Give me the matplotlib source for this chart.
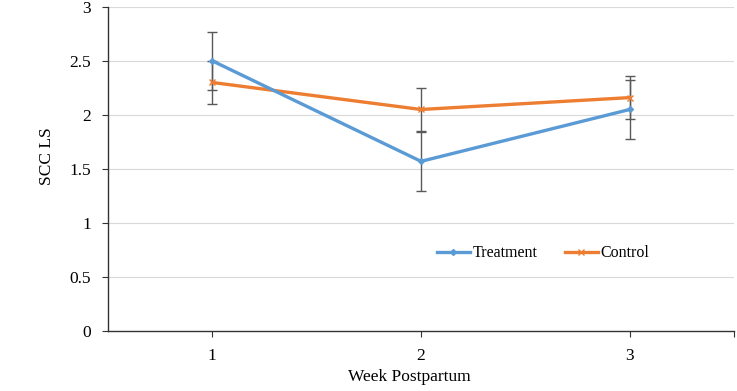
import matplotlib
matplotlib.use("Agg")
import matplotlib.pyplot as plt

weeks = [1, 2, 3]
treatment = [2.50, 1.57, 2.05]
treatment_err = [0.27, 0.27, 0.27]
control = [2.30, 2.05, 2.16]
control_err = [0.20, 0.20, 0.20]
yticks = [0, 0.5, 1, 1.5, 2, 2.5, 3]

plt.rcParams['font.family'] = ['Liberation Serif', 'DejaVu Serif']

fig = plt.figure(figsize=(7.37, 3.91), dpi=100)
ax = fig.add_axes([0.1465, 0.1535, 0.8495, 0.829])

for y in yticks[1:]:
    ax.axhline(y, color='#d9d9d9', lw=0.8, zorder=0)

ax.errorbar(weeks, treatment, yerr=treatment_err, fmt='none', ecolor='#595959',
            elinewidth=1, capsize=3.5, capthick=1, zorder=1)
ax.errorbar(weeks, control, yerr=control_err, fmt='none', ecolor='#595959',
            elinewidth=1, capsize=3.5, capthick=1, zorder=1)
ax.plot(weeks, treatment, color='#5b9bd5', lw=2.4, marker='D', ms=3, label='Treatment', zorder=3)
ax.plot(weeks, control, color='#ed7d31', lw=2.4, marker='x', ms=4, mew=1, label='Control', zorder=2)

ax.set_xlim(0.5, 3.5)
ax.set_ylim(0, 3)
ax.set_yticks(yticks)
ax.set_yticklabels(['0', '0.5', '1', '1.5', '2', '2.5', '3'])
ax.set_xticks([1, 2, 3, 3.5])
ax.set_xticklabels(['1', '2', '3', ''])
ax.tick_params(axis='both', labelsize=12.5, length=4, width=0.8, color='#333333')
ax.tick_params(axis='x', pad=8)
ax.tick_params(axis='y', pad=8)

for s in ['top', 'right']:
    ax.spines[s].set_visible(False)
for s in ['left', 'bottom']:
    ax.spines[s].set_color('#333333')
    ax.spines[s].set_linewidth(1)

ax.set_xlabel('Week Postpartum', fontsize=12.5)
ax.set_ylabel('SCC LS', fontsize=12.5)
ax.xaxis.set_label_coords(0.482, -0.142, transform=ax.transAxes)
ax.yaxis.set_label_coords(-0.097, 0.54, transform=ax.transAxes)
ax.xaxis.label.set_va('center')
ax.yaxis.label.set_va('center')

ax.legend(loc='center', bbox_to_anchor=(0.695, 0.24), ncol=2, frameon=False,
          fontsize=11.5, handlelength=2.1, handletextpad=0.15, columnspacing=1.7)

fig.savefig('out.png', dpi=100)
